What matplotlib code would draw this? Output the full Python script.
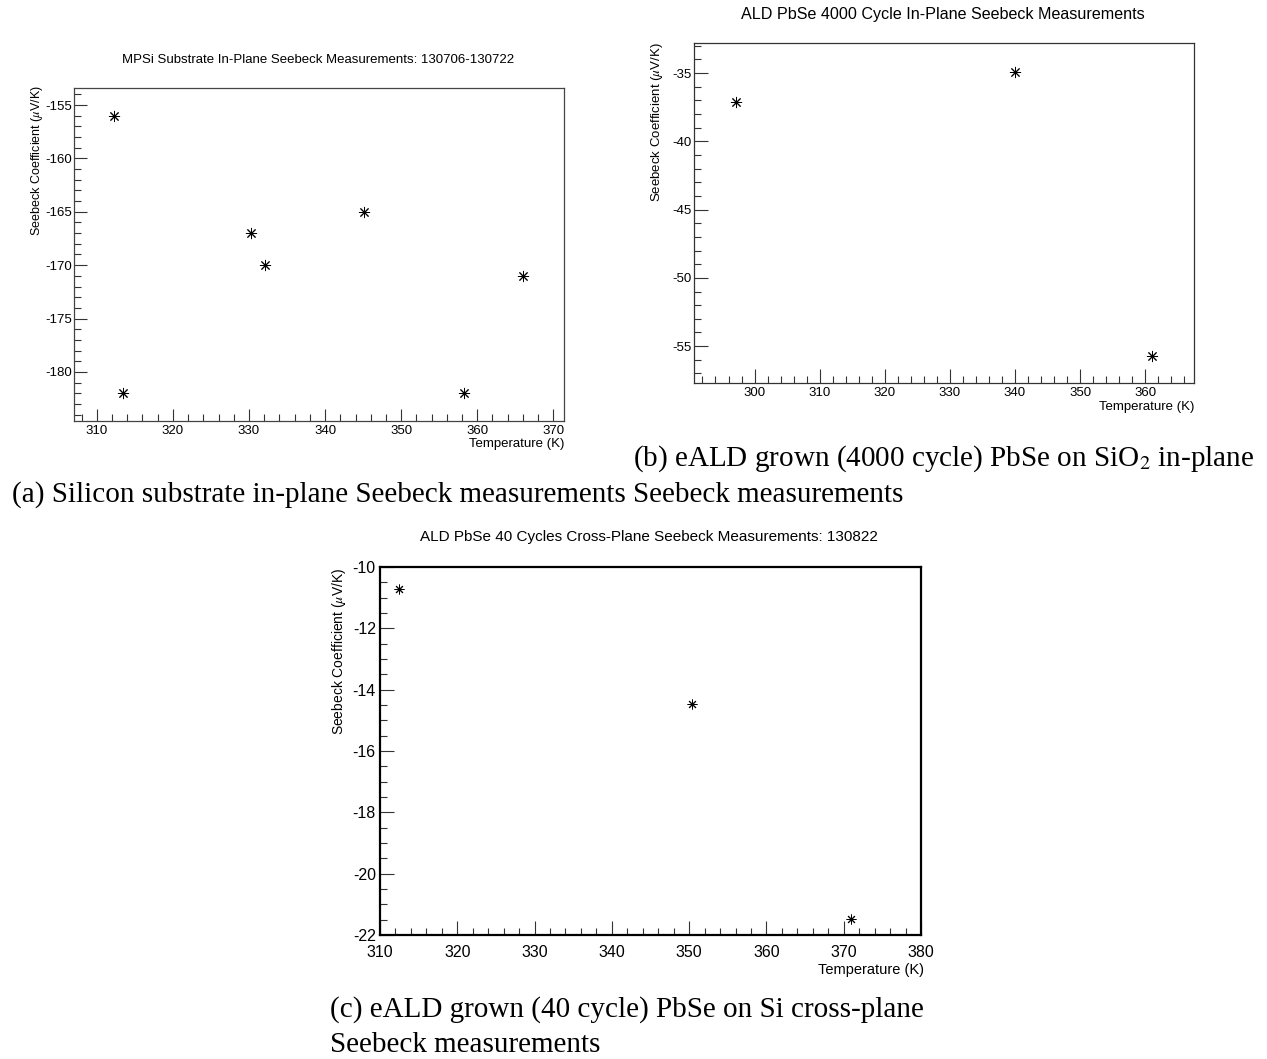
"""Seebeck coefficient vs temperature for the substrate and eALD PbSe samples"""

import matplotlib.pyplot as plt
from matplotlib.ticker import MultipleLocator

# (a) MPSi substrate, in-plane
temp_a = [312.3, 313.4, 330.2, 332.1, 345.1, 358.2, 366.0]
seebeck_a = [-156.0, -182.0, -167.0, -170.0, -165.0, -182.0, -171.0]

# (b) 4000 cycle PbSe on SiO2, in-plane
temp_b = [297.1, 340.0, 361.1]
seebeck_b = [-37.1, -34.95, -55.7]

# (c) 40 cycle PbSe on Si, cross-plane
temp_c = [312.4, 350.4, 371.0]
seebeck_c = [-10.73, -14.46, -21.49]

W, H = 1267, 1059
SANS = 'Liberation Sans'
SERIF = 'Liberation Serif'
ASTERISK = (8, 2, 0)

plt.rcParams['axes.unicode_minus'] = False
plt.rcParams['mathtext.fontset'] = 'stix'


def rect(left, top, right, bottom):
    return [left / W, 1 - bottom / H, (right - left) / W, (bottom - top) / H]


def fx(x):
    return x / W


def fy(y):
    return 1 - y / H


def style_axes(ax, xmaj, xmin, ymaj, ymin, tick_size, spine_w, spine_c,
               major_len, minor_len):
    ax.xaxis.set_major_locator(MultipleLocator(xmaj))
    ax.xaxis.set_minor_locator(MultipleLocator(xmin))
    ax.yaxis.set_major_locator(MultipleLocator(ymaj))
    ax.yaxis.set_minor_locator(MultipleLocator(ymin))
    ax.tick_params(which='both', direction='in', top=False, right=False,
                   labelsize=tick_size, width=0.8, color='#333333', pad=3)
    ax.tick_params(axis='y', pad=1.5)
    ax.tick_params(which='major', length=major_len)
    ax.tick_params(which='minor', length=minor_len)
    for lab in ax.get_xticklabels() + ax.get_yticklabels():
        lab.set_family(SANS)
    for s in ax.spines.values():
        s.set_linewidth(spine_w)
        s.set_color(spine_c)


fig = plt.figure(figsize=(W / 100, H / 100), dpi=100)

# ---- panel (a)
ax = fig.add_axes(rect(74, 88, 564, 421))
ax.plot(temp_a, seebeck_a, linestyle='none', marker=ASTERISK, markersize=8,
        color='black', markeredgewidth=0.7)
ax.set_xlim(307.0, 371.4)
ax.set_ylim(-184.6, -153.4)
style_axes(ax, 10, 2, 5, 1, 9.5, 0.9, '#444444', 9, 5)
fig.text(fx(318), fy(60), 'MPSi Substrate In-Plane Seebeck Measurements: 130706-130722',
         ha='center', va='center', fontsize=9.5, family=SANS)
fig.text(fx(37), fy(85), r'Seebeck Coefficient ($\mu$V/K)', rotation=90,
         ha='center', va='top', fontsize=9, family=SANS)
fig.text(fx(564), fy(444), 'Temperature (K)', ha='right', va='center',
         fontsize=9.5, family=SANS)

# ---- panel (b)
ax = fig.add_axes(rect(694, 43, 1194, 383))
ax.plot(temp_b, seebeck_b, linestyle='none', marker=ASTERISK, markersize=8,
        color='black', markeredgewidth=0.7)
ax.set_xlim(290.7, 367.5)
ax.set_ylim(-57.7, -32.8)
style_axes(ax, 10, 2, 5, 1, 9.5, 0.9, '#333333', 10, 5)
fig.text(fx(943), fy(15), 'ALD PbSe 4000 Cycle In-Plane Seebeck Measurements',
         ha='center', va='center', fontsize=11.6, family=SANS)
fig.text(fx(657), fy(42), r'Seebeck Coefficient ($\mu$V/K)', rotation=90,
         ha='center', va='top', fontsize=9.5, family=SANS)
fig.text(fx(1194), fy(407), 'Temperature (K)', ha='right', va='center',
         fontsize=9.5, family=SANS)

# ---- panel (c)
ax = fig.add_axes(rect(380, 567, 921, 935))
ax.plot(temp_c, seebeck_c, linestyle='none', marker=ASTERISK, markersize=7,
        color='black', markeredgewidth=0.7)
ax.set_xlim(310, 380)
ax.set_ylim(-22, -10)
style_axes(ax, 10, 2, 2, 0.5, 11.5, 1.6, 'black', 10, 5)
ax.tick_params(axis='x', pad=7)
ax.tick_params(axis='y', pad=3)
fig.text(fx(649), fy(537), 'ALD PbSe 40 Cycles Cross-Plane Seebeck Measurements: 130822',
         ha='center', va='center', fontsize=11, family=SANS)
fig.text(fx(339), fy(568), r'Seebeck Coefficient ($\mu$V/K)', rotation=90,
         ha='center', va='top', fontsize=10, family=SANS)
fig.text(fx(924), fy(970), 'Temperature (K)', ha='right', va='center',
         fontsize=10.5, family=SANS)

# ---- captions
fig.text(fx(633), fy(459), r'(b) eALD grown (4000 cycle) PbSe on SiO$_2$ in-plane',
         ha='left', va='center', fontsize=21, family=SERIF)
fig.text(fx(12), fy(495), '(a) Silicon substrate in-plane Seebeck measurements Seebeck measurements',
         ha='left', va='center', fontsize=21, family=SERIF)
fig.text(fx(330), fy(1010), '(c) eALD grown (40 cycle) PbSe on Si cross-plane',
         ha='left', va='center', fontsize=21, family=SERIF)
fig.text(fx(330), fy(1045), 'Seebeck measurements',
         ha='left', va='center', fontsize=21, family=SERIF)

fig.savefig('out.png', dpi=100)
